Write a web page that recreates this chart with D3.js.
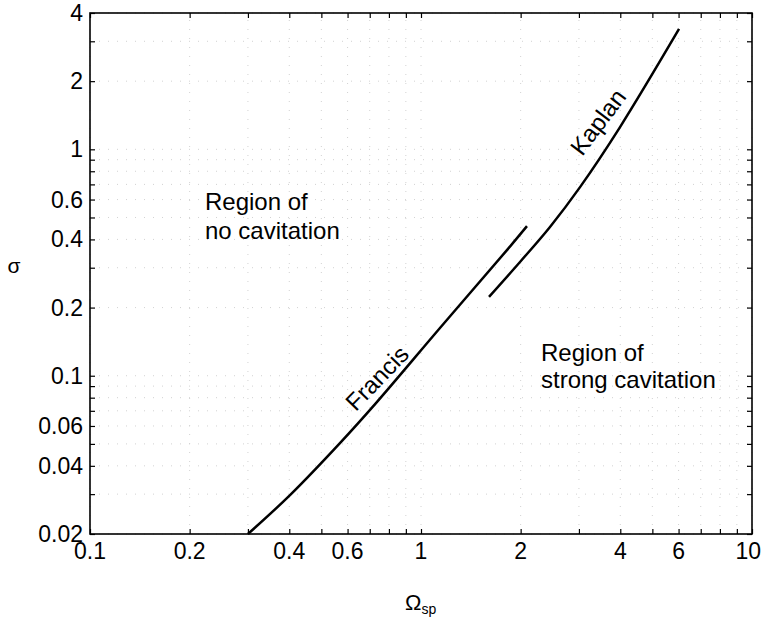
<!DOCTYPE html>
<html>
<head>
<meta charset="utf-8">
<script src="https://cdn.jsdelivr.net/npm/d3@7"></script>
<style>
  body { margin: 0; background: #fff; }
  svg text { font-family: "Liberation Sans", Arial, sans-serif; fill: #000; }
</style>
</head>
<body>
<svg id="chart"></svg>
<script>
// tick labels
const xTickLabels = [0.1, 0.2, 0.4, 0.6, 1, 2, 4, 6, 10];
const yTickLabels = [0.02, 0.04, 0.06, 0.1, 0.2, 0.4, 0.6, 1, 2, 4];

// Francis turbine curve (specific speed vs. Thoma number)
const francisOmega = [0.300, 0.402, 0.569, 0.731, 1.141, 1.81, 2.09];
const francisSigma = [0.020, 0.0297, 0.0504, 0.0757, 0.1625, 0.356, 0.458];

// Kaplan turbine curve
const kaplanOmega = [1.605, 1.991, 2.453, 3.023, 3.993, 6.02];
const kaplanSigma = [0.223, 0.318, 0.454, 0.681, 1.254, 3.40];

var width = 763;
var height = 623;
var margin = {top: 13, right: 11, bottom: 89, left: 90};

/**
 * Draws the whole cavitation chart.
 */
function drawChart() {
  var svg = d3.select("#chart")
    .attr("width", width)
    .attr("height", height);

  var xScale = d3.scaleLog()
    .domain([0.1, 10])
    .range([margin.left, width - margin.right]);

  var yScale = d3.scaleLog()
    .domain([0.02, 4])
    .range([height - margin.bottom, margin.top]);

  drawGrid(svg, xScale, yScale);
  drawTicks(svg, xScale, yScale);

  var francis = francisOmega.map(function(d, i) {
    return [d, francisSigma[i]];
  });
  var kaplan = kaplanOmega.map(function(d, i) {
    return [d, kaplanSigma[i]];
  });

  var line = d3.line()
    .x(function(d) { return xScale(d[0]); })
    .y(function(d) { return yScale(d[1]); })
    .curve(d3.curveCatmullRom.alpha(0.5));

  [francis, kaplan].forEach(function(series) {
    svg.append("path")
      .datum(series)
      .attr("fill", "none")
      .attr("stroke", "#000")
      .attr("stroke-width", 2.5)
      .attr("d", line);
  });

  // frame
  svg.append("rect")
    .attr("x", margin.left)
    .attr("y", margin.top)
    .attr("width", width - margin.left - margin.right)
    .attr("height", height - margin.top - margin.bottom)
    .attr("fill", "none")
    .attr("stroke", "#000")
    .attr("stroke-width", 1.6);

  drawAnnotations(svg);
}

/**
 * Draws the faint dotted minor grid.
 */
function drawGrid(svg, xScale, yScale) {
  var g = svg.append("g")
    .attr("stroke", "#d2d2d2")
    .attr("stroke-width", 1)
    .attr("stroke-dasharray", "1,8");

  g.selectAll(".gx")
    .data(xScale.ticks())
    .enter().append("line")
    .attr("x1", function(d) { return xScale(d); })
    .attr("x2", function(d) { return xScale(d); })
    .attr("y1", yScale.range()[0])
    .attr("y2", yScale.range()[1]);

  g.selectAll(".gy")
    .data(yScale.ticks())
    .enter().append("line")
    .attr("y1", function(d) { return yScale(d); })
    .attr("y2", function(d) { return yScale(d); })
    .attr("x1", xScale.range()[0])
    .attr("x2", xScale.range()[1]);
}

/**
 * Inward ticks on all four sides plus the labels on the left and bottom.
 */
function drawTicks(svg, xScale, yScale) {
  var size = 5;
  var x0 = xScale.range()[0], x1 = xScale.range()[1];
  var y0 = yScale.range()[0], y1 = yScale.range()[1];

  svg.append("g")
    .attr("transform", "translate(0," + y0 + ")")
    .call(d3.axisBottom(xScale).tickValues(xScale.ticks()).tickSizeInner(-size).tickSizeOuter(0).tickFormat(""))
    .call(function(g) { g.select(".domain").remove(); });
  svg.append("g")
    .attr("transform", "translate(0," + y1 + ")")
    .call(d3.axisTop(xScale).tickValues(xScale.ticks()).tickSizeInner(-size).tickSizeOuter(0).tickFormat(""))
    .call(function(g) { g.select(".domain").remove(); });
  svg.append("g")
    .attr("transform", "translate(" + x0 + ",0)")
    .call(d3.axisLeft(yScale).tickValues(yScale.ticks()).tickSizeInner(-size).tickSizeOuter(0).tickFormat(""))
    .call(function(g) { g.select(".domain").remove(); });
  svg.append("g")
    .attr("transform", "translate(" + x1 + ",0)")
    .call(d3.axisRight(yScale).tickValues(yScale.ticks()).tickSizeInner(-size).tickSizeOuter(0).tickFormat(""))
    .call(function(g) { g.select(".domain").remove(); });

  svg.selectAll(".tick line").attr("stroke", "#000").attr("stroke-width", 1.2);

  var last = xTickLabels[xTickLabels.length - 1];
  svg.selectAll(".xlabel")
    .data(xTickLabels)
    .enter().append("text")
    .attr("class", "xlabel")
    .attr("x", function(d) { return d === last ? width - 2 : xScale(d); })
    .attr("y", y0 + 25)
    .attr("text-anchor", function(d) { return d === last ? "end" : "middle"; })
    .style("font-size", "23px")
    .text(function(d) { return String(d); });

  svg.selectAll(".ylabel")
    .data(yTickLabels)
    .enter().append("text")
    .attr("class", "ylabel")
    .attr("x", x0 - 7)
    .attr("y", function(d) { return yScale(d); })
    .attr("dy", "0.35em")
    .attr("text-anchor", "end")
    .style("font-size", "23px")
    .text(function(d) { return String(d); });
}

/**
 * Axis titles, region notes and the curve names.
 */
function drawAnnotations(svg) {
  svg.append("text")
    .attr("x", 14)
    .attr("y", 273)
    .attr("text-anchor", "middle")
    .style("font-size", "21px")
    .text("σ");

  var om = svg.append("text")
    .attr("x", 405)
    .attr("y", 610)
    .style("font-size", "22px")
    .text("Ω");
  om.append("tspan")
    .attr("dy", 4)
    .style("font-size", "14px")
    .text("sp");

  var no = svg.append("text")
    .attr("x", 205)
    .attr("y", 210)
    .style("font-size", "24px");
  no.append("tspan").attr("x", 205).text("Region of");
  no.append("tspan").attr("x", 205).attr("dy", 29).text("no cavitation");

  var strong = svg.append("text")
    .attr("x", 541)
    .attr("y", 361)
    .style("font-size", "24px");
  strong.append("tspan").attr("x", 541).text("Region of");
  strong.append("tspan").attr("x", 541).attr("dy", 27).text("strong cavitation");

  svg.append("text")
    .attr("transform", "translate(377,378) rotate(-46)")
    .attr("text-anchor", "middle")
    .attr("dy", "0.35em")
    .style("font-size", "24px")
    .text("Francis");

  svg.append("text")
    .attr("transform", "translate(598,122) rotate(-53)")
    .attr("text-anchor", "middle")
    .attr("dy", "0.35em")
    .style("font-size", "24px")
    .text("Kaplan");
}

drawChart();
</script>
</body>
</html>
